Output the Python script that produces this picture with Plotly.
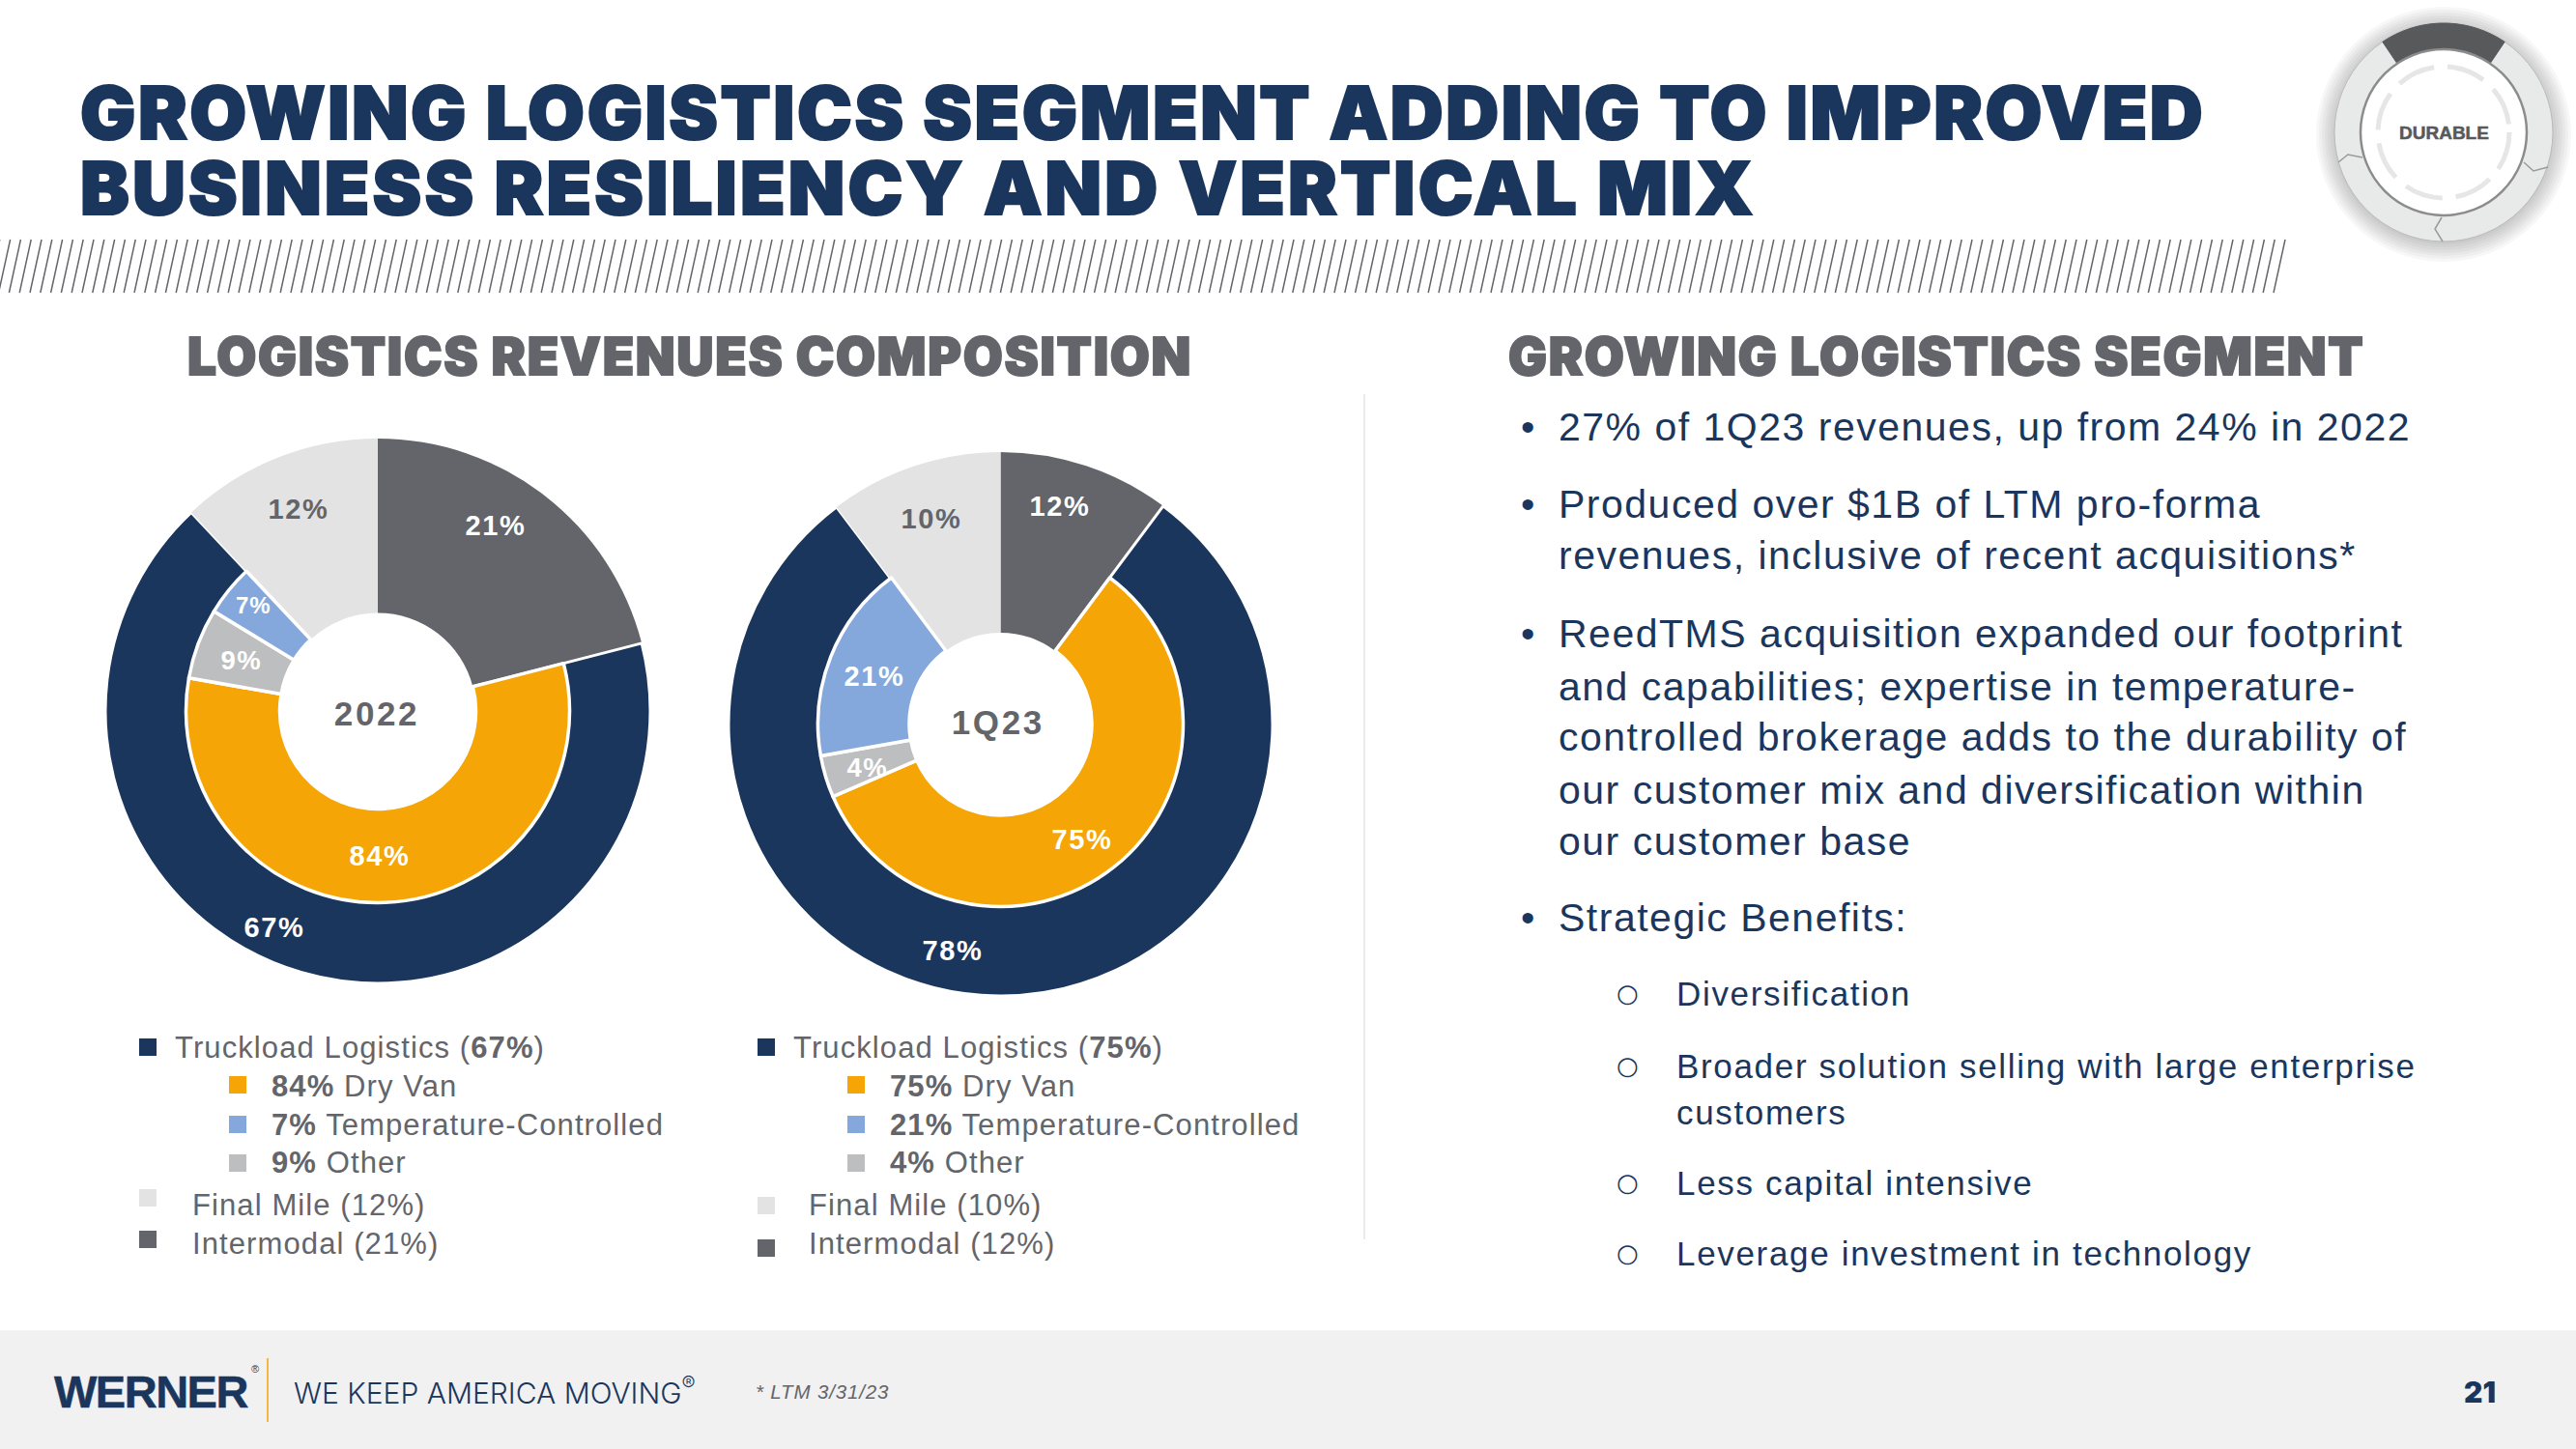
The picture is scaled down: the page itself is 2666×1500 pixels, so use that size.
import math
import plotly.graph_objects as go

W, H = 2666, 1500
NAVY, ORANGE, BLUE, GREY, LIGHT, DARK = "#1B365D", "#F5A506", "#84A8DC", "#BDBEC0", "#E3E3E3", "#63656A"
CLEAR = "rgba(0,0,0,0)"

# ---- data -------------------------------------------------------------
segments = ["Intermodal", "Truckload Logistics", "Final Mile"]
sub_segments = ["Intermodal", "Dry Van", "Other", "Temperature-Controlled", "Final Mile"]

# arc shares as drawn in the reference
outer_2022 = [21, 67, 12]
inner_2022 = [21, 56.75, 5.94, 4.3, 12]
outer_1q23 = [10.2, 79.5, 10.3]
inner_1q23 = [10.2, 58.3, 3.7, 17.6, 10.2]

# printed percentages
labels_2022 = {"final": 12, "inter": 21, "temp": 7, "other": 9, "van": 84, "truck": 67}
labels_1q23 = {"final": 10, "inter": 12, "temp": 21, "other": 4, "van": 75, "truck": 78}
legend_truck_1q23 = 75

title_lines = ["GROWING LOGISTICS SEGMENT ADDING TO IMPROVED",
               "BUSINESS RESILIENCY AND VERTICAL MIX"]
heading_left = "LOGISTICS REVENUES COMPOSITION"
heading_right = "GROWING LOGISTICS SEGMENT"
bullet_lines = ["27% of 1Q23 revenues, up from 24% in 2022",
                "Produced over $1B of LTM pro-forma",
                "revenues, inclusive of recent acquisitions*",
                "ReedTMS acquisition expanded our footprint",
                "and capabilities; expertise in temperature-",
                "controlled brokerage adds to the durability of",
                "our customer mix and diversification within",
                "our customer base",
                "Strategic Benefits:"]
sub_lines = ["Diversification",
             "Broader solution selling with large enterprise",
             "customers",
             "Less capital intensive",
             "Leverage investment in technology"]


# ---- helpers ----------------------------------------------------------
def fx(x):
    return x / W


def fy(y):
    return 1 - y / H


annotations, shapes = [], []


def text(x, y, s, size, color=DARK, anchor="left", family="Liberation Sans", weight=None, style=None):
    font = dict(family=family, size=size, color=color)
    if weight:
        font["weight"] = weight
    if style:
        font["style"] = style
    annotations.append(dict(x=fx(x), y=fy(y), xref="paper", yref="paper", text=s, showarrow=False,
                            xanchor=anchor, yanchor="middle", font=font, align=anchor))


def rect(x0, y0, x1, y1, color):
    shapes.append(dict(type="rect", xref="paper", yref="paper", x0=fx(x0), x1=fx(x1), y0=fy(y0), y1=fy(y1),
                       fillcolor=color, line_width=0, layer="below"))


def circle(cx, cy, r, fill, line=None, lw=0, dash=None):
    ln = dict(width=lw, color=line or CLEAR)
    if dash:
        ln["dash"] = dash
    shapes.append(dict(type="circle", xref="paper", yref="paper", x0=fx(cx - r), x1=fx(cx + r),
                       y0=fy(cy - r), y1=fy(cy + r), fillcolor=fill, line=ln, layer="below"))


def path(points, color, lw=1.5, close=False, fill=None):
    d = "M" + " L".join(f"{fx(x):.5f},{fy(y):.5f}" for x, y in points) + (" Z" if close else "")
    shapes.append(dict(type="path", xref="paper", yref="paper", path=d, fillcolor=fill or CLEAR,
                       line=dict(width=lw, color=color), layer="below"))


def donut(cx, cy, R, r_mid, r_hole, outer, inner):
    dom = dict(x=[fx(cx - R), fx(cx + R)], y=[fy(cy + R), fy(cy - R)])
    dom2 = dict(x=[fx(cx - r_mid), fx(cx + r_mid)], y=[fy(cy + r_mid), fy(cy - r_mid)])
    traces = [
        go.Pie(labels=segments, values=outer, domain=dom, hole=r_hole / R, sort=False, direction="clockwise",
               rotation=0, textinfo="none", hoverinfo="label", showlegend=False,
               marker=dict(colors=[DARK, NAVY, LIGHT], line=dict(color=["#FFFFFF"] * 3, width=[0, 3, 0]))),
        go.Pie(labels=sub_segments, values=inner, domain=dom2, hole=r_hole / r_mid, sort=False,
               direction="clockwise", rotation=0, textinfo="none", hoverinfo="label", showlegend=False,
               marker=dict(colors=[CLEAR, ORANGE, GREY, BLUE, CLEAR],
                           line=dict(color=["#FFFFFF"] * 5, width=[0, 3.5, 3.5, 3.5, 0]))),
    ]
    return traces


# ---- page furniture ---------------------------------------------------
rect(0, 1377, W, H, "#F1F1F2")
shapes.append(dict(type="line", xref="paper", yref="paper", x0=fx(1412), x1=fx(1412), y0=fy(408), y1=fy(1283),
                   line=dict(color="#DEDEDE", width=1.2), layer="below"))

hatch = "".join(f"M{fx(x - 12):.5f},{fy(303):.5f} L{fx(x):.5f},{fy(248):.5f} " for x in
                [2365 - 10.8 * i for i in range(221)])
shapes.append(dict(type="path", xref="paper", yref="paper", path=hatch,
                   line=dict(color=DARK, width=1.5), layer="below"))

# badge
BX, BY = 2529, 137
for i, r in enumerate(range(132, 112, -3)):
    circle(BX, BY + 2, r, "rgba(0,0,0,0.03)")
circle(BX, BY, 113, "#E8E9E9", "#BBBBBB", 1)
seg = [(BX + 113 * math.sin(math.radians(a)), BY - 113 * math.cos(math.radians(a))) for a in range(-34, 35, 4)] + \
      [(BX + 87 * math.sin(math.radians(a)), BY - 87 * math.cos(math.radians(a))) for a in range(34, -35, -4)]
path(seg, "#58595B", 1, True, "#58595B")
circle(BX, BY, 86, "#FFFFFF", "#8C8C8C", 2.5)
circle(BX, BY, 68, CLEAR, "#E6E6E6", 5, "40px,14px")
path([(2420, 168), (2430, 160), (2445, 163)], "#9A9A9A", 1.5)
path([(2528, 250), (2520, 237), (2527, 225)], "#9A9A9A", 1.5)
path([(2637, 173), (2622, 177), (2612, 168)], "#9A9A9A", 1.5)
text(BX, BY, "DURABLE", 19, "#58595B", "center", "Liberation Sans", 700)

# footer
text(54, 1440, "WERNER", 47, NAVY, "left", "Liberation Sans", 700)
text(258, 1417, "®", 11, NAVY)
shapes.append(dict(type="line", xref="paper", yref="paper", x0=fx(277), x1=fx(277), y0=fy(1406), y1=fy(1472),
                   line=dict(color=ORANGE, width=1.5), layer="below"))
text(302, 1440, "WE KEEP AMERICA MOVING<sup>®</sup>", 30, NAVY, "left", "Inter", 300)
text(780, 1440, "* LTM 3/31/23", 20.5, DARK, style="italic")
text(2585, 1441, "21", 30, NAVY, "right", "Inter", 900)

# titles
text(81, 116, title_lines[0], 76, NAVY, family="Inter", weight=900)
text(81, 194, title_lines[1], 76, NAVY, family="Inter", weight=900)
text(192, 369, heading_left, 53, DARK, family="Inter", weight=900)
text(1559, 369, heading_right, 53, DARK, family="Inter", weight=900)

# right hand bullets
for s, y in zip(bullet_lines, [442, 522, 575, 656, 711, 763, 818, 871, 950]):
    text(1611, y, s, 41, "#1B365D")
for y in [442, 522, 656, 950]:
    text(1572, y, "•", 41, NAVY)
for s, y in zip(sub_lines, [1028, 1103, 1151, 1224, 1297]):
    text(1733, y, s, 35, NAVY)
for y in [1028, 1103, 1224, 1297]:
    text(1671, y, "○", 26, NAVY, family="DejaVu Sans")


# legends
def legend(data, truck_value, sq1, tx1, sq2, tx2, tx3, sq_y3, sq_y4):
    s = 18
    rows = [(sq1, 1084, NAVY), (sq2, 1123, ORANGE), (sq2, 1164, BLUE), (sq2, 1204, GREY),
            (sq1, sq_y3, LIGHT), (sq1, sq_y4, DARK)]
    for x, y, c in rows:
        rect(x, y - s / 2, x + s, y + s / 2, c)
    text(tx1, 1084, f"Truckload Logistics (<b>{truck_value}%</b>)", 31)
    text(tx2, 1124, f"<b>{data['van']}%</b> Dry Van", 31)
    text(tx2, 1164, f"<b>{data['temp']}%</b> Temperature-Controlled", 31)
    text(tx2, 1203, f"<b>{data['other']}%</b> Other", 31)
    text(tx3, 1247, f"Final Mile ({data['final']}%)", 31)
    text(tx3, 1287, f"Intermodal ({data['inter']}%)", 31)


legend(labels_2022, labels_2022["truck"], 144, 179, 237, 279, 197, 1240, 1283)
legend(labels_1q23, legend_truck_1q23, 784, 819, 877, 919, 835, 1248, 1292)

# donut labels
for (x, y, k, c, sz) in [(309, 527, "final", DARK, 29), (513, 544, "inter", "#FFFFFF", 29),
                         (262, 627, "temp", "#FFFFFF", 24), (250, 684, "other", "#FFFFFF", 27.5),
                         (393, 886, "van", "#FFFFFF", 29), (284, 960, "truck", "#FFFFFF", 29)]:
    text(x, y, f"<b>{labels_2022[k]}%</b>", sz, c, "center")
for (x, y, k, c, sz) in [(964, 537, "final", DARK, 29), (1097, 524, "inter", "#FFFFFF", 29),
                         (905, 700, "temp", "#FFFFFF", 29), (898, 794, "other", "#FFFFFF", 27.5),
                         (1120, 869, "van", "#FFFFFF", 29), (986, 984, "truck", "#FFFFFF", 29)]:
    text(x, y, f"<b>{labels_1q23[k]}%</b>", sz, c, "center")
text(390, 738, "<b>2022</b>", 35, DARK, "center")
text(1033, 748, "<b>1Q23</b>", 35, DARK, "center")

traces = donut(391, 736, 282, 198.5, 101.5, outer_2022, inner_2022) + \
         donut(1035.5, 749.5, 281.5, 189, 94.5, outer_1q23, inner_1q23)

fig = go.Figure(traces)
fig.update_layout(width=W, height=H, margin=dict(l=0, r=0, t=0, b=0), paper_bgcolor="#FFFFFF",
                  plot_bgcolor="#FFFFFF", annotations=annotations, shapes=shapes, showlegend=False)

# Plotly has no tracking or outline option: set the page margin, the reference's letter spacing
# and the heavy weight of its headings after drawing.
tracking = """
document.body.style.margin = '0';
var lib = {41: 1.5, 35: 1.67, 31: 1.1, 29: 1.6, 27.5: 1.5, 24: 1, 20.5: 0.85, 47: -1.5};
var inter = {76: 2.6, 53: 1.7};
var outline = {76: 2.2, 53: 1.8, 47: 0.5, 19: 0.5};
document.querySelectorAll('.annotation-text').forEach(function (t) {
  var fam = t.style.fontFamily || '', size = parseFloat(t.style.fontSize);
  var isLib = fam.indexOf('Liberation Sans') >= 0;
  var sp = isLib ? lib[size] : inter[size];
  if (size === 35 && t.textContent.length < 6) sp = 2.6;
  if (size === 76 && t.textContent.indexOf('BUSINESS') === 0) sp = 3.2;
  if (sp) t.style.letterSpacing = sp + 'px';
  if (outline[size]) { t.style.stroke = t.style.fill; t.style.strokeWidth = outline[size] + 'px'; }
});
"""
fig.write_html("out.html", post_script=tracking, config={"displayModeBar": False})
